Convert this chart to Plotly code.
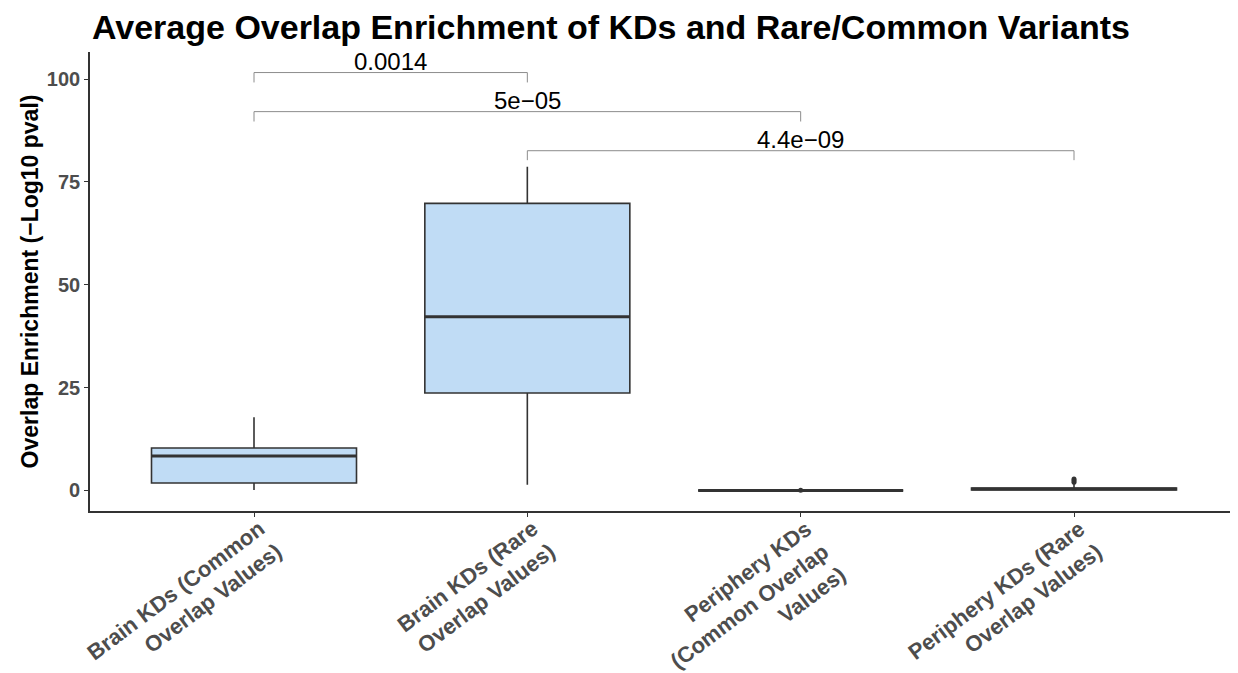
import math
import plotly.graph_objects as go

# ---- data ----
categories = [
    "Brain KDs (Common<br>Overlap Values)",
    "Brain KDs (Rare<br>Overlap Values)",
    "Periphery KDs<br>(Common Overlap<br>Values)",
    "Periphery KDs (Rare<br>Overlap Values)",
]
lower_whisker = [0.1, 1.4, 0.0, 0.0]
q1_vals = [1.8, 23.7, 0.0, 0.1]
median_vals = [8.4, 42.2, 0.0, 0.35]
q3_vals = [10.3, 69.8, 0.0, 0.6]
upper_whisker = [17.8, 78.7, 0.0, 1.6]
outlier_group = [3, 4, 4, 4]
outlier_vals = [0.05, 2.0, 2.4, 2.8]

brackets_from = [1, 1, 2]
brackets_to = [2, 3, 4]
bracket_y = [101.6, 92.1, 82.6]
bracket_tick_y = [99.2, 89.7, 80.3]
bracket_labels = ["0.0014", "5e\u221205", "4.4e\u221209"]

title_text = "Average Overlap Enrichment of KDs and Rare/Common Variants"
y_title = "Overlap Enrichment (\u2212Log10 pval)"
y_ticks = [0, 25, 50, 75, 100]

# ---- style ----
FONT = "Liberation Sans, Arial, sans-serif"
FILL = "#C0DCF5"
LINE = "#333333"
BOX_W = 0.75
XLAB_FS = 22
XLAB_ANGLE = 37
positions = list(range(1, len(categories) + 1))
W, H = 1230, 665  # page body has an 8px margin

fig = go.Figure()

for i, pos in enumerate(positions):
    fig.add_trace(go.Box(
        x=[pos],
        q1=[q1_vals[i]], median=[median_vals[i]], q3=[q3_vals[i]],
        lowerfence=[lower_whisker[i]], upperfence=[upper_whisker[i]],
        width=BOX_W,
        fillcolor=FILL,
        line=dict(color=LINE, width=1.6),
        whiskerwidth=0,
        boxpoints=False,
        showlegend=False,
        hoverinfo="skip",
    ))
    # thicker median line (ggplot style)
    fig.add_trace(go.Scatter(
        x=[pos - BOX_W / 2, pos + BOX_W / 2],
        y=[median_vals[i], median_vals[i]],
        mode="lines",
        line=dict(color=LINE, width=3),
        showlegend=False,
        hoverinfo="skip",
    ))

fig.add_trace(go.Scatter(
    x=outlier_group, y=outlier_vals, mode="markers",
    marker=dict(color=LINE, size=5),
    showlegend=False, hoverinfo="skip",
))

# significance brackets
for a, b, yl, yt, lab in zip(brackets_from, brackets_to, bracket_y, bracket_tick_y, bracket_labels):
    fig.add_trace(go.Scatter(
        x=[a, a, b, b], y=[yt, yl, yl, yt], mode="lines",
        line=dict(color="#8C8C8C", width=1),
        showlegend=False, hoverinfo="skip",
    ))
    fig.add_annotation(
        x=(a + b) / 2, y=yl, text=lab, showarrow=False,
        yanchor="bottom", yshift=-4,
        font=dict(family=FONT, size=24, color="#000000"),
    )

# x category labels: rotated, lines right-aligned (ggplot hjust=1)
sin_a = math.sin(math.radians(XLAB_ANGLE))
for pos, lab in zip(positions, categories):
    n_lines = lab.count("<br>") + 1
    box_h = n_lines * 1.3 * XLAB_FS + 2
    fig.add_annotation(
        x=pos, xref="x", y=0, yref="paper",
        text="<b>" + lab + "</b>", showarrow=False,
        textangle=-XLAB_ANGLE, align="right",
        xanchor="right", yanchor="top",
        xshift=sin_a * box_h, yshift=-2,
        font=dict(family=FONT, size=XLAB_FS, color="#4D4D4D"),
    )

fig.update_layout(
    width=W, height=H,
    margin=dict(l=82, r=0, t=44, b=162),
    plot_bgcolor="white", paper_bgcolor="white",
    title=dict(
        text="<b>" + title_text + "</b>",
        x=84 / W, xanchor="left", xref="container",
        y=1 - 7 / H, yanchor="top", yref="container",
        font=dict(family=FONT, size=34, color="#000000"),
    ),
    xaxis=dict(
        range=[0.4, 4.6],
        tickmode="array", tickvals=positions,
        showticklabels=False,
        showline=True, linecolor=LINE, linewidth=1.6,
        ticks="outside", ticklen=4, tickcolor=LINE, tickwidth=1,
        showgrid=False, zeroline=False, automargin=False,
    ),
    yaxis=dict(
        range=[-5.0, 106.6],
        tickmode="array", tickvals=y_ticks,
        ticktext=["<b>%d</b>" % v for v in y_ticks],
        tickfont=dict(family=FONT, size=20, color="#4D4D4D"),
        showline=True, linecolor=LINE, linewidth=1.6,
        ticks="outside", ticklen=4, tickcolor=LINE, tickwidth=1,
        showgrid=False, zeroline=False, automargin=False,
        title=dict(text="<b>" + y_title + "</b>",
                   font=dict(family=FONT, size=23, color="#000000"),
                   standoff=2),
    ),
)

fig.write_html("out.html")
